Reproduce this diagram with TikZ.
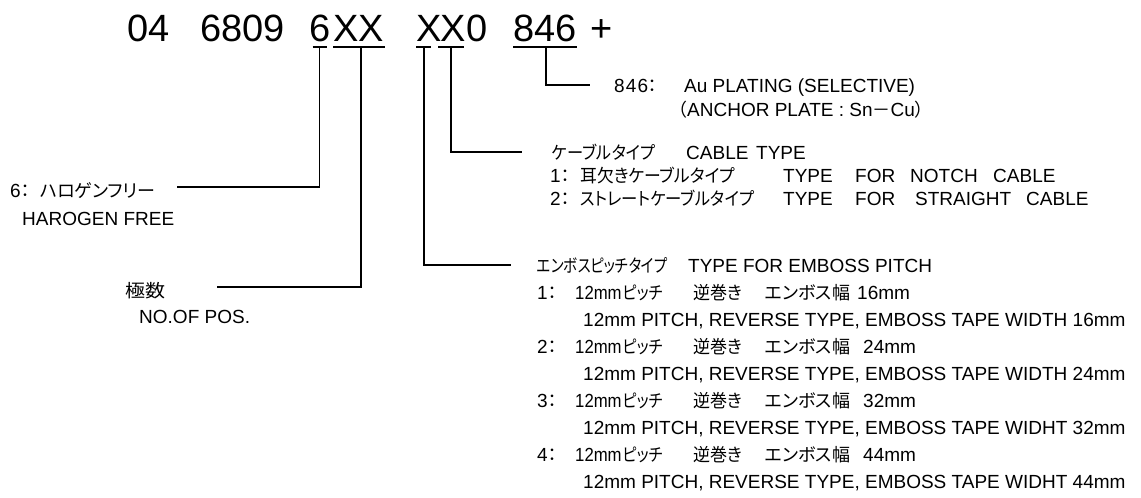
\documentclass[tikz,border=0pt]{standalone}
\usepackage{graphicx}
\usepackage{fontspec}
\setmainfont{Liberation Sans}
\newfontfamily\jpfont{Noto Sans CJK JP}[RawFeature=+palt]
\newcommand\J[1]{{\jpfont\fontsize{18}{18}\selectfont #1}}
\newcommand\JW[2]{\resizebox{#1}{\height}{\J{#2}}}
\begin{document}
\begin{tikzpicture}[x=1pt,y=-1pt,
  ttl/.style={anchor=base west,inner sep=0pt,font=\fontsize{38}{38}\selectfont},
  lbl/.style={anchor=base west,inner sep=0pt,font=\fontsize{19}{19}\selectfont},
  conn/.style={line width=1.6pt},
  uline/.style={line width=2.7pt}]
\useasboundingbox (0,0) rectangle (1141,498);
% ---------- title ----------
\node[ttl] (t04)   at (127,41) {04};
\node[ttl] (t6809) at (200,41) {6809};
\node[ttl] (t6)    at (309,41) {6};
\node[ttl] (tXX)   at (333,41) {XX};
\node[ttl] (tXa)   at (416,41) {X};
\node[ttl] (tXb)   at (440,41) {X};
\node[ttl] (t0)    at (466,41) {0};
\node[ttl] (t846)  at (513,41) {846};
\node[ttl] (tplus) at (590,41) {+};
% underlines
\coordinate (u6a) at (312.7,47);  \coordinate (u6b) at (326.7,47);
\coordinate (uXXa) at (333,47);   \coordinate (uXXb) at (385,47);
\coordinate (uXaa) at (416,47);   \coordinate (uXab) at (431,47);
\coordinate (uXba) at (438,47);   \coordinate (uXbb) at (464,47);
\coordinate (u846a) at (513,47);  \coordinate (u846b) at (577,47);
\draw[uline] (u6a) -- (u6b);
\draw[uline] (uXXa) -- (uXXb);
\draw[uline] (uXaa) -- (uXab);
\draw[uline] (uXba) -- (uXbb);
\draw[uline] (u846a) -- (u846b);
% ---------- connectors ----------
\coordinate (c6) at (319.5,47);
\coordinate (cXX) at (361,47);
\coordinate (cXa) at (424,47);
\coordinate (cXb) at (451,47);
\coordinate (c846) at (546,47);
\coordinate (e6) at (177,187);
\coordinate (eXX) at (217,287);
\coordinate (eXa) at (511,265);
\coordinate (eXb) at (522,152);
\coordinate (e846) at (590,85);
\draw[conn] (c6) |- (e6);
\draw[conn] (cXX) |- (eXX);
\draw[conn] (cXa) |- (eXa);
\draw[conn] (cXb) |- (eXb);
\draw[conn] (c846) |- (e846);
% ---------- left labels ----------
\node[lbl] (h1a) at (10,197) {6\J{：}};
\node[lbl] (h1b) at (40,197) {\J{ハロゲンフリー}};
\node[lbl] (h2)  at (22,225) {HAROGEN FREE};
\node[lbl] (p1)  at (125,297) {\JW{40pt}{極数}};
\node[lbl] (p2)  at (139,323) {NO.OF POS.};
% ---------- 846 ----------
\node[lbl] (a1a) at (614,92) {8\kern1.2pt4\kern1.2pt6\J{：}};
\node[lbl] (a1b) at (684,92) {Au PLATING (SELECTIVE)};
\node[lbl] (a2)  at (678,116) {\J{（}ANCHOR PLATE : Sn\J{－}Cu\J{）}};
% ---------- cable type ----------
\node[lbl] (k0a) at (552,159) {\JW{103pt}{ケーブルタイプ}};
\node[lbl] (k0b) at (686,159) {CABLE};
\node[lbl] (k0c) at (756,159) {TYPE};
\node[lbl] (k1a) at (550,182) {1\J{：}};
\node[lbl] (k1b) at (580,182) {\JW{155pt}{耳欠きケーブルタイプ}};
\node[lbl] (k1c) at (783,182) {TYPE};
\node[lbl] (k1d) at (855,182) {FOR};
\node[lbl] (k1e) at (910,182) {NOTCH};
\node[lbl] (k1f) at (993,182) {CABLE};
\node[lbl] (k2a) at (550,205) {2\J{：}};
\node[lbl] (k2b) at (580,205) {\JW{174pt}{ストレートケーブルタイプ}};
\node[lbl] (k2c) at (783,205) {TYPE};
\node[lbl] (k2d) at (855,205) {FOR};
\node[lbl] (k2e) at (915,205) {STRAIGHT};
\node[lbl] (k2f) at (1026,205) {CABLE};
% ---------- emboss pitch ----------
\node[lbl] (m0a) at (537,272) {\JW{130pt}{エンボスピッチタイプ}};
\node[lbl] (m0b) at (688,272) {TYPE FOR EMBOSS PITCH};
\foreach \n/\yy/\v/\vx in {1/299.1/16mm/857, 2/353.3/24mm/863, 3/407.5/32mm/863, 4/461.7/44mm/863}{
  \node[lbl] (m\n a) at (537,\yy) {\n\J{：}};
  \node[lbl] (m\n b) at (575,\yy) {\scalebox{0.88}[1]{12mm}};
  \node[lbl] (m\n c) at (623,\yy) {\JW{40pt}{ピッチ}};
  \node[lbl] (m\n d) at (693,\yy) {\JW{49pt}{逆巻き}};
  \node[lbl] (m\n e) at (765,\yy) {\J{エンボス幅}};
  \node[lbl] (m\n f) at (\vx,\yy) {\v};
}
\node[lbl] (m1x) at (583,326.2) {12mm PITCH, REVERSE TYPE, EMBOSS TAPE WIDTH 16mm};
\node[lbl] (m2x) at (583,380.4) {12mm PITCH, REVERSE TYPE, EMBOSS TAPE WIDTH 24mm};
\node[lbl] (m3x) at (583,434.6) {12mm PITCH, REVERSE TYPE, EMBOSS TAPE WIDHT 32mm};
\node[lbl] (m4x) at (583,488.8) {12mm PITCH, REVERSE TYPE, EMBOSS TAPE WIDHT 44mm};
\end{tikzpicture}
\end{document}
